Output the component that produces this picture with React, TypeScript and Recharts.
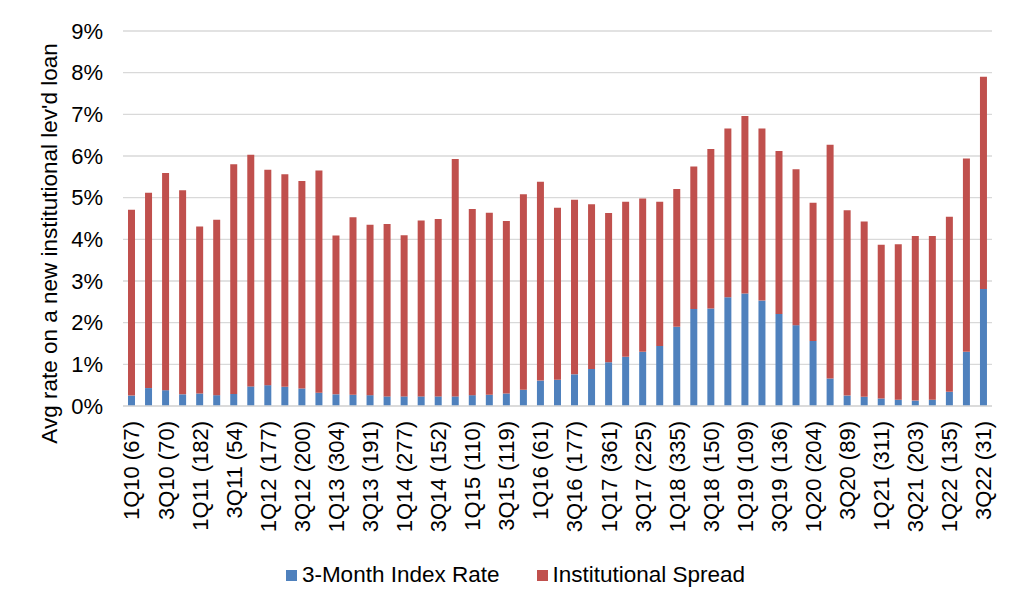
import React from "react";
import { BarChart, Bar, XAxis, YAxis, CartesianGrid, Legend } from "recharts";

// quarter (deal count) — only odd positions are shown on the axis
const categories = [
  "1Q10 (67)", "2Q10", "3Q10 (70)", "4Q10", "1Q11 (182)", "2Q11", "3Q11 (54)", "4Q11",
  "1Q12 (177)", "2Q12", "3Q12 (200)", "4Q12", "1Q13 (304)", "2Q13", "3Q13 (191)", "4Q13",
  "1Q14 (277)", "2Q14", "3Q14 (152)", "4Q14", "1Q15 (110)", "2Q15", "3Q15 (119)", "4Q15",
  "1Q16 (61)", "2Q16", "3Q16 (177)", "4Q16", "1Q17 (361)", "2Q17", "3Q17 (225)", "4Q17",
  "1Q18 (335)", "2Q18", "3Q18 (150)", "4Q18", "1Q19 (109)", "2Q19", "3Q19 (136)", "4Q19",
  "1Q20 (204)", "2Q20", "3Q20 (89)", "4Q20", "1Q21 (311)", "2Q21", "3Q21 (203)", "4Q21",
  "1Q22 (135)", "2Q22", "3Q22 (31)",
];

const indexRate = [
  0.25, 0.43, 0.38, 0.28, 0.3, 0.26, 0.29, 0.47, 0.5, 0.46, 0.42, 0.32, 0.28, 0.27, 0.26, 0.23,
  0.23, 0.23, 0.23, 0.23, 0.26, 0.27, 0.3, 0.39, 0.61, 0.63, 0.76, 0.89, 1.05, 1.18, 1.3, 1.44,
  1.9, 2.33, 2.34, 2.61, 2.7, 2.53, 2.21, 1.94, 1.56, 0.66, 0.25, 0.22, 0.18, 0.15, 0.13, 0.15,
  0.34, 1.3, 2.81,
];

const spread = [
  4.46, 4.69, 5.21, 4.9, 4.01, 4.21, 5.51, 5.56, 5.17, 5.1, 4.98, 5.33, 3.81, 4.26, 4.09, 4.14,
  3.87, 4.22, 4.26, 5.7, 4.47, 4.37, 4.14, 4.69, 4.77, 4.13, 4.19, 3.95, 3.58, 3.72, 3.68, 3.46,
  3.31, 3.42, 3.83, 4.05, 4.26, 4.13, 3.91, 3.74, 3.32, 5.61, 4.45, 4.21, 3.69, 3.73, 3.95, 3.93,
  4.2, 4.64, 5.09,
];

const yTicks = [0, 1, 2, 3, 4, 5, 6, 7, 8, 9];

const seriesNames = ["3-Month Index Rate", "Institutional Spread"];
const BLUE = "#4f81bd";
const RED = "#c0504d";
const FONT = "'Liberation Sans', Arial, sans-serif";

const data = categories.map((label, i) => ({
  label,
  indexRate: indexRate[i],
  spread: spread[i],
}));

const QuarterTick = (props: any) => {
  const { x, y, payload } = props;
  return (
    <text
      x={x}
      y={y}
      dy="0.36em"
      transform={`rotate(-90, ${x}, ${y})`}
      textAnchor="end"
      fontSize={22}
      fontFamily={FONT}
      fill="#000"
    >
      {payload.value}
    </text>
  );
};

const LegendContent = () => (
  <div
    style={{
      display: "flex",
      justifyContent: "center",
      alignItems: "center",
      height: 26,
      paddingLeft: 31,
      fontFamily: FONT,
      fontSize: 22.5,
      color: "#000",
      gap: 37,
    }}
  >
    {seriesNames.map((name, i) => (
      <div key={name} style={{ display: "flex", alignItems: "center" }}>
        <span
          style={{
            width: 11,
            height: 11,
            background: i === 0 ? BLUE : RED,
            marginRight: 5,
            display: "inline-block",
          }}
        />
        <span>{name}</span>
      </div>
    ))}
  </div>
);

export default function App() {
  return (
    <div style={{ width: 1008, height: 607, background: "#fff" }}>
      <BarChart
        width={1008}
        height={607}
        data={data}
        margin={{ top: 23, right: 24, left: 0, bottom: 27 }}
        barCategoryGap={0}
      >
        <CartesianGrid vertical={false} stroke="#d9d9d9" strokeWidth={1.3} />
        <XAxis
          dataKey="label"
          interval={1}
          tick={<QuarterTick />}
          tickLine={false}
          tickMargin={9}
          height={156}
          axisLine={{ stroke: "#d9d9d9", strokeWidth: 1.3 }}
        />
        <YAxis
          width={115}
          domain={[0, 9]}
          ticks={yTicks}
          tickFormatter={(v) => `${v}%`}
          tickLine={false}
          axisLine={false}
          tickMargin={14}
          tick={{ fontSize: 22, fontFamily: FONT, fill: "#000" }}
          label={{
            content: (p: any) => {
              const vb = p.viewBox || { y: 0, height: 0 };
              const cx = 41;
              const cy = vb.y + vb.height / 2 + 25;
              return (
                <text
                  x={cx}
                  y={cy}
                  dy="0.36em"
                  transform={`rotate(-90, ${cx}, ${cy})`}
                  textAnchor="middle"
                  fontSize={22.5}
                  fontFamily={FONT}
                  fill="#000"
                >
                  Avg rate on a new institutional lev'd loan
                </text>
              );
            },
          }}
        />
        <Legend verticalAlign="bottom" content={<LegendContent />} />
        <Bar
          dataKey="indexRate"
          name={seriesNames[0]}
          stackId="a"
          fill={BLUE}
          barSize={7}
          isAnimationActive={false}
        />
        <Bar
          dataKey="spread"
          name={seriesNames[1]}
          stackId="a"
          fill={RED}
          barSize={7}
          isAnimationActive={false}
        />
      </BarChart>
    </div>
  );
}
